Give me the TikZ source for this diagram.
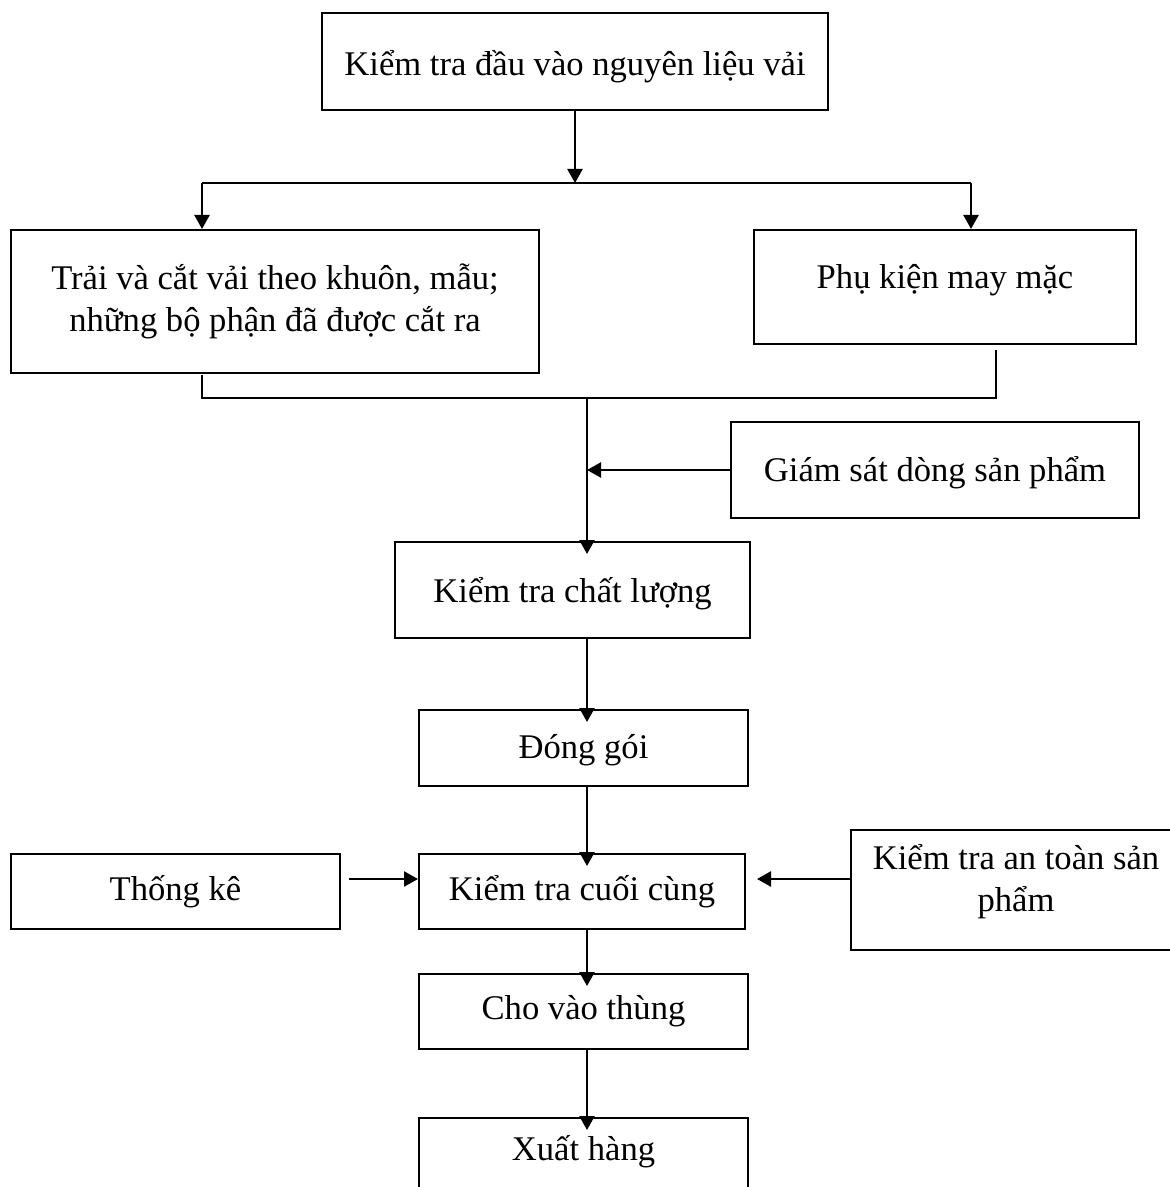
\documentclass[tikz,border=0pt]{standalone}
\usepackage{fontspec}
\setmainfont{Liberation Serif}
\usetikzlibrary{arrows.meta}
% raise text visually without changing its reported size
\newcommand\liftby[2]{\raisebox{#1}[\height][\depth]{#2}}
\begin{document}
\begin{tikzpicture}[x=0.5pt,y=-0.5pt,
  box/.style={draw, line width=1pt, inner sep=0pt, align=center,
    font=\fontsize{17.3}{21}\selectfont},
  arr/.style={line width=1.25pt, -{Triangle[width=7.5pt,length=7pt]}},
  link/.style={line width=0.9pt},
  into/.style={shorten >=-6.5pt}]
\useasboundingbox (0,0) rectangle (1170,1187);

% process boxes
\node[box, minimum width=253pt, minimum height=48.5pt] (top) at (575,61.5)
  {\liftby{-2.5pt}{Kiểm tra đầu vào nguyên liệu vải}};
\node[box, minimum width=264pt, minimum height=71.5pt] (cut) at (275,301.5)
  {Trải và cắt vải theo khuôn, mẫu;\\những bộ phận đã được cắt ra};
\node[box, minimum width=191pt, minimum height=57pt] (pk) at (945,287)
  {\liftby{3.5pt}{Phụ kiện may mặc}};
\node[box, minimum width=204pt, minimum height=48pt] (gs) at (935,470)
  {\liftby{-1.5pt}{Giám sát dòng sản phẩm}};
\node[box, minimum width=177.5pt, minimum height=48pt] (ktcl) at (572.5,590)
  {\liftby{-2pt}{Kiểm tra chất lượng}};
\node[box, minimum width=164.5pt, minimum height=38pt] (dg) at (583.5,748)
  {\liftby{-1pt}{Đóng gói}};
\node[box, minimum width=164.5pt, minimum height=37.5pt] (tk) at (175.5,891.5)
  {Thống kê};
\node[box, minimum width=163pt, minimum height=37.5pt] (ktcc) at (582,891.5)
  {Kiểm tra cuối cùng};
\node[box, minimum width=165pt, minimum height=60pt] (at) at (1016,890)
  {\liftby{4pt}{\begin{tabular}{@{}c@{}}Kiểm tra an toàn sản\\phẩm\end{tabular}}};
\node[box, minimum width=164.5pt, minimum height=37.5pt] (cvt) at (583.5,1011.5)
  {Cho vào thùng};
\node[box, minimum width=164.5pt, minimum height=41pt] (xh) at (583.5,1159)
  {\liftby{3.5pt}{Xuất hàng}};

% routing points
\coordinate (split)  at (575,183);
\coordinate (splitL) at (202,183);
\coordinate (splitR) at (971,183);
\coordinate (joinL)  at (202,398);
\coordinate (joinR)  at (996,398);
\coordinate (pkout)  at (996,350);
\coordinate (cutout) at (202,375);
\coordinate (join)   at (587,398);
\coordinate (row)    at (0,879);

% branching from the first check
\draw[arr] (top.south) -- (split);
\draw[link] (splitL) -- (splitR);
\draw[arr] (splitL) -- (splitL |- cut.north);
\draw[arr] (splitR) -- (splitR |- pk.north);

% merging the two branches
\draw[link] (cutout) -- (joinL) -- (joinR) -- (pkout);
\draw[arr, into] (join) -- (join |- ktcl.north);
\draw[arr] (gs.west) -- (join |- gs.west);

% main line
\draw[arr, into] (join |- ktcl.south) -- (join |- dg.north);
\draw[arr, into] (join |- dg.south) -- (join |- ktcc.north);
\draw[arr, into] (join |- ktcc.south) -- (join |- cvt.north);
\draw[arr, into] (join |- cvt.south) -- (join |- xh.north);

% side inputs to the final check
\draw[arr, shorten <=4pt] (tk.east |- row) -- (ktcc.west |- row);
\draw[arr, shorten >=5.5pt] (at.west |- row) -- (ktcc.east |- row);
\end{tikzpicture}
\end{document}
